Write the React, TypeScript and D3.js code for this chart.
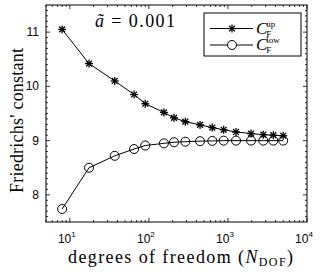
import React from 'react';
import * as d3 from 'd3';

// values
const nDof = [8, 17.5, 37, 65, 90, 155, 208, 289, 444, 634, 883, 1265, 1960, 2800, 3750, 5000];
const cUp = [11.05, 10.42, 10.1, 9.85, 9.68, 9.52, 9.42, 9.35, 9.29, 9.24, 9.2, 9.16, 9.13, 9.11, 9.1, 9.09];
const cLow = [7.74, 8.5, 8.72, 8.845, 8.91, 8.95, 8.97, 8.98, 8.99, 8.995, 9.0, 9.0, 9.0, 9.0, 9.0, 9.0];
const xTicks = [10, 100, 1000, 10000];
const xTickExp = ['1', '2', '3', '4'];
const yTicks = [8, 9, 10, 11];
const legendSup = ['up', 'low'];

const W = 324;
const H = 273;
const m = { left: 46, right: 17, top: 5, bottom: 51 };

const serifStyle = { fontFamily: '"Liberation Serif", "Times New Roman"' };
const sansStyle = { fontFamily: '"Liberation Sans", Arial' };

function Star({ x, y }: { x: number; y: number }) {
  const r = 4;
  const d = 2.9;
  return (
    <g stroke="#000" strokeWidth={1.3}>
      <line x1={x - r} y1={y} x2={x + r} y2={y} />
      <line x1={x} y1={y - r} x2={x} y2={y + r} />
      <line x1={x - d} y1={y - d} x2={x + d} y2={y + d} />
      <line x1={x - d} y1={y + d} x2={x + d} y2={y - d} />
    </g>
  );
}

export default function App() {
  const x = d3.scaleLog().domain([5, 10000]).range([m.left, W - m.right]);
  const y = d3.scaleLinear().domain([7.5, 11.5]).range([H - m.bottom, m.top]);
  const x0 = m.left, x1 = W - m.right, y0 = H - m.bottom, y1 = m.top;

  const line = d3.line<number>().x((_, i) => x(nDof[i])).y(d => y(d));

  const minorX: number[] = [];
  for (let e = 0; e < 4; e++) {
    for (let k = 2; k <= 9; k++) {
      const v = k * Math.pow(10, e);
      if (v >= 5 && v <= 10000) minorX.push(v);
    }
  }
  const minorY = d3.range(76, 115).map(v => v / 10).filter(v => !yTicks.includes(v));

  return (
    <svg width={W} height={H} style={{ position: 'absolute', left: 0, top: 0, fontFamily: '"Liberation Serif"' }}>
      <rect x={0} y={0} width={W} height={H} fill="#fff" />
      {/* ticks */}
      <g stroke="#000" strokeWidth={0.8}>
        {xTicks.map(t => (
          <g key={'xt' + t}>
            <line x1={x(t)} x2={x(t)} y1={y0} y2={y0 - 4} />
            <line x1={x(t)} x2={x(t)} y1={y1} y2={y1 + 4} />
          </g>
        ))}
        {minorX.map(t => (
          <g key={'xm' + t}>
            <line x1={x(t)} x2={x(t)} y1={y0} y2={y0 - 2} />
            <line x1={x(t)} x2={x(t)} y1={y1} y2={y1 + 2} />
          </g>
        ))}
        {yTicks.map(t => (
          <g key={'yt' + t}>
            <line x1={x0} x2={x0 + 4} y1={y(t)} y2={y(t)} />
            <line x1={x1} x2={x1 - 4} y1={y(t)} y2={y(t)} />
          </g>
        ))}
        {minorY.map(t => (
          <g key={'ym' + t}>
            <line x1={x0} x2={x0 + 2} y1={y(t)} y2={y(t)} />
            <line x1={x1} x2={x1 - 2} y1={y(t)} y2={y(t)} />
          </g>
        ))}
      </g>
      <rect x={x0} y={y1} width={x1 - x0} height={y0 - y1} fill="none" stroke="#000" strokeWidth={1} />

      {/* tick labels */}
      {xTicks.map((t, i) => (
        <text key={'xl' + t} x={x(t) - 3} y={y0 + 21} style={sansStyle} fontSize={12} textAnchor="middle">
          10<tspan dy={-6} fontSize={8}>{xTickExp[i]}</tspan>
        </text>
      ))}
      {yTicks.map(t => (
        <text key={'yl' + t} x={x0 - 7} y={y(t) + 4} style={sansStyle} fontSize={12} textAnchor="end">{t}</text>
      ))}

      {/* axis labels */}
      <text x={68} y={263} style={serifStyle} fontSize={18} textLength={225} lengthAdjust="spacing">
        degrees of freedom (<tspan fontStyle="italic">N</tspan><tspan dy={3} fontSize={12}>DOF</tspan><tspan dy={-3}>)</tspan>
      </text>
      <text transform="translate(23,193) rotate(-90)" style={serifStyle} fontSize={18} textLength={145} lengthAdjust="spacing">
        Friedrichs' constant
      </text>

      {/* series */}
      <path d={line(cUp) || ''} fill="none" stroke="#000" strokeWidth={1} />
      <path d={line(cLow) || ''} fill="none" stroke="#000" strokeWidth={1} />
      {cUp.map((v, i) => <Star key={'s' + i} x={x(nDof[i])} y={y(v)} />)}
      {cLow.map((v, i) => (
        <circle key={'c' + i} cx={x(nDof[i])} cy={y(v)} r={4.5} fill="none" stroke="#000" strokeWidth={1} />
      ))}

      {/* annotation */}
      <text x={95} y={27} style={serifStyle} fontSize={18} textLength={80} lengthAdjust="spacing">
        <tspan fontStyle="italic">ã</tspan> = 0.001
      </text>

      {/* legend */}
      <rect x={204} y={13} width={97} height={43} fill="#fff" stroke="#000" strokeWidth={1} />
      {legendSup.map((s, i) => {
        const ly = 28.5 + i * 16.5;
        return (
          <g key={s}>
            <line x1={210} x2={253} y1={ly} y2={ly} stroke="#000" strokeWidth={1} />
            {i === 0 ? <Star x={232} y={ly} /> : <circle cx={232} cy={ly} r={4.5} fill="#fff" stroke="#000" strokeWidth={1} />}
            <text x={256} y={ly + 5} style={serifStyle} fontSize={17}>
              <tspan fontStyle="italic">C</tspan>
              <tspan dx={-1} dy={3} fontSize={9}>F</tspan>
              <tspan dx={-5} dy={-10} fontSize={9}>{s}</tspan>
            </text>
          </g>
        );
      })}
    </svg>
  );
}
